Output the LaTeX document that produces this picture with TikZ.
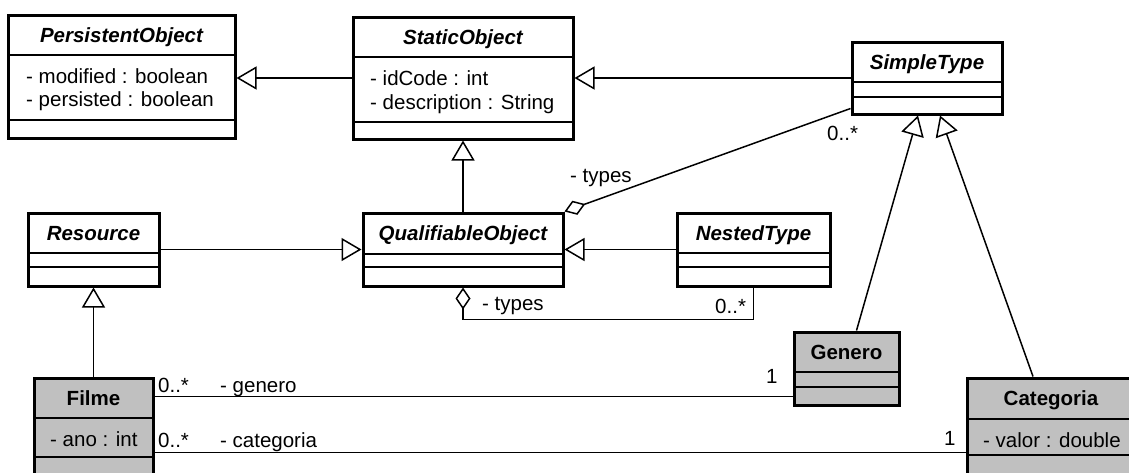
\documentclass[tikz,border=0pt]{standalone}
\usepackage{fontspec}
\setmainfont{Liberation Sans}
\usetikzlibrary{arrows.meta,fit,calc}
\definecolor{umlgray}{RGB}{192,192,192}
\tikzset{
  frame/.style={draw, line width=3pt, inner sep=0pt},
  sepline/.style={line width=1.5pt},
  conn/.style={line width=1.5pt},
  gen/.style={conn, -{Triangle[open, length=20pt, width=23pt]}},
  agg/.style={conn, {Diamond[open, length=22pt, width=15pt]}-},
  ttl/.style={font=\fontsize{20.5}{24}\selectfont\bfseries\itshape, inner sep=0pt, anchor=base},
  ttlc/.style={font=\fontsize{20.5}{24}\selectfont\bfseries, inner sep=0pt, anchor=base},
  attr/.style={font=\fontsize{20.5}{24}\selectfont, inner sep=0pt, anchor=base west},
  lbl/.style={font=\fontsize{20.5}{24}\selectfont, inner sep=0pt, anchor=base west},
}
\newcommand{\umlclass}[8]{%
  \node[frame, fill=#8, fit={(#2,#3) (#4,#5)}] (#1) {};
  \draw[sepline] (#2,#6) -- (#4,#6);
  \draw[sepline] (#2,#7) -- (#4,#7);
}
\begin{document}
\begin{tikzpicture}[x=1pt,y=-1pt]
\useasboundingbox (0,0) rectangle (1129,472);
% classes
\umlclass{po}{8}{15}{235}{138}{55}{120}{white}
\node[ttl] (pot) at ($(po.north)+(0,29)$) {PersistentObject};
\node[attr] (poa) at (26,83) {- modified : boolean};
\node[attr] (pob) at (26,106) {- persisted : boolean};

\umlclass{so}{353}{17}{573}{139}{57}{122}{white}
\node[ttl] (sot) at ($(so.north)+(0,29)$) {StaticObject};
\node[attr] (soa) at (370,85) {- idCode : int};
\node[attr] (sob) at (370,109) {- description : String};

\umlclass{st}{852}{42}{1002}{114}{82}{97}{white}
\node[ttl] (stt) at ($(st.north)+(0,29)$) {SimpleType};

\umlclass{rs}{28}{213}{159}{286}{253}{267}{white}
\node[ttl] (rst) at ($(rs.north)+(0,29)$) {Resource};

\umlclass{qo}{363}{213}{563}{286}{254}{267}{white}
\node[ttl] (qot) at ($(qo.north)+(0,29)$) {QualifiableObject};

\umlclass{nt}{677}{213}{830}{286}{253}{267}{white}
\node[ttl] (ntt) at ($(nt.north)+(0,29)$) {NestedType};

\umlclass{ge}{794}{332}{899}{405}{372}{387}{umlgray}
\node[ttlc] (get) at ($(ge.north)+(0,29)$) {Genero};

\umlclass{fi}{34}{378}{153}{500}{418}{457}{umlgray}
\node[ttlc] (fimt) at ($(fi.north)+(0,29)$) {Filme};
\node[attr] (fia) at (50,446) {- ano : int};

\umlclass{ca}{967}{378}{1135}{500}{419}{455}{umlgray}
\node[ttlc] (cat) at ($(ca.north)+(0,29)$) {Categoria};
\node[attr] (caa) at (983,447) {- valor : double};

% generalizations
\draw[gen] (so.west) -- (so.west -| po.east);
\draw[gen] (st.west) -- (st.west -| so.east);
\draw[gen] (qo.north) -- (qo.north |- so.south);
\draw[gen] (rs.east) -- (rs.east -| qo.west);
\draw[gen] (nt.west) -- (nt.west -| qo.east);
\draw[gen] (fi.north) -- (fi.north |- rs.south);
\draw[gen] ($(ge.north)+(10,0)$) -- ($(st.south)+(-9,0)$);
\draw[gen] ($(ca.north)+(-18,0)$) -- ($(st.south)+(13,0)$);

% aggregations
\draw[agg] (qo.north east) -- ($(st.south west)+(0,-7)$);
\draw[agg] (qo.south) -- ++(0,32) -| (nt.south);

% associations
\coordinate (fg) at ($(fi.north east)+(0,20)$);
\coordinate (fc) at ($(fi.north east)+(0,76)$);
\draw[conn] (fg) -- (fg -| ge.west);
\draw[conn] (fc) -- (fc -| ca.west);

% labels
\node[lbl] (m1) at (827,140) {0..*};
\node[lbl] (r1) at (570,182) {- types};
\node[lbl] (r2) at (482,310) {- types};
\node[lbl] (m2) at (715,313) {0..*};
\node[lbl] (m3) at (158,392) {0..*};
\node[lbl] (r3) at (220,392) {- genero};
\node[lbl] (m4) at (766,383) {1};
\node[lbl] (m5) at (158,447) {0..*};
\node[lbl] (r4) at (220,447) {- categoria};
\node[lbl] (m6) at (944,445) {1};
\end{tikzpicture}
\end{document}
